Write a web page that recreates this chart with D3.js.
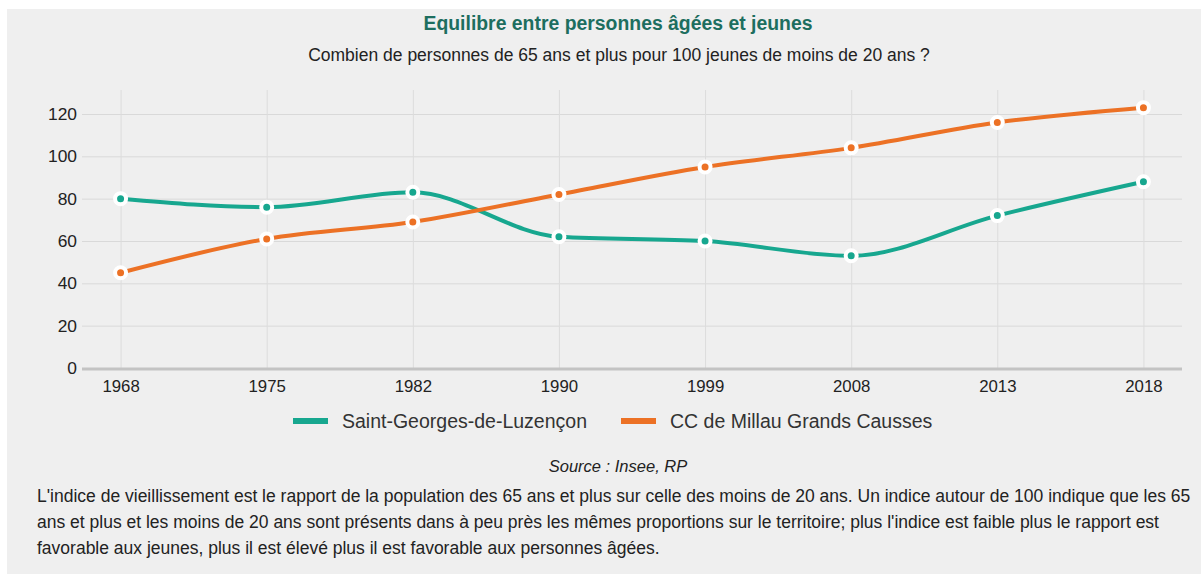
<!DOCTYPE html>
<html>
<head>
<meta charset="utf-8">
<script src="https://cdn.jsdelivr.net/npm/d3@7"></script>
<style>
  html, body { margin: 0; padding: 0; background: #ffffff; }
  svg { display: block; font-family: "Liberation Sans", Arial, sans-serif; }
</style>
</head>
<body>
<svg id="chart" width="1201" height="574"></svg>
<script>
const years = ["1968", "1975", "1982", "1990", "1999", "2008", "2013", "2018"];
const saintGeorges = [80, 76, 83, 62, 60, 53, 72, 88];
const millau = [45, 61, 69, 82, 95, 104, 116, 123];
const seriesNames = ["Saint-Georges-de-Luzençon", "CC de Millau Grands Causses"];
const seriesColors = ["#17a78f", "#ec7125"];
const yTicks = [0, 20, 40, 60, 80, 100, 120];
const titleText = "Equilibre entre personnes âgées et jeunes";
const subtitleText = "Combien de personnes de 65 ans et plus pour 100 jeunes de moins de 20 ans ?";
const sourceText = "Source : Insee, RP";
const noteLines = [
  "L'indice de vieillissement est le rapport de la population des 65 ans et plus sur celle des moins de 20 ans. Un indice autour de 100 indique que les 65",
  "ans et plus et les moins de 20 ans sont présents dans à peu près les mêmes proportions sur le territoire; plus l'indice est faible plus le rapport est",
  "favorable aux jeunes, plus il est élevé plus il est favorable aux personnes âgées."
];

const svg = d3.select("#chart");
svg.append("rect").attr("x", 7).attr("y", 9).attr("width", 1194).attr("height", 565).attr("fill", "#efefef");

const plot = { left: 82, right: 1182, top: 90, bottom: 368 };

const x = d3.scalePoint().domain(years).range([plot.left, plot.right]).padding(0.264);
const y = d3.scaleLinear().domain([0, 120]).range([plot.bottom, 114]);

// title
svg.append("text").attr("x", 618).attr("y", 30).attr("text-anchor", "middle")
  .attr("font-size", 19.4).attr("font-weight", "bold").attr("fill", "#1d6e5f").text(titleText);
svg.append("text").attr("x", 619).attr("y", 61).attr("text-anchor", "middle")
  .attr("font-size", 17.5).attr("fill", "#222").text(subtitleText);

// horizontal grid
const gy = svg.append("g").attr("transform", `translate(${plot.left},0)`)
  .call(d3.axisLeft(y).tickValues(yTicks).tickSize(-(plot.right - plot.left)).tickFormat(""));
gy.select(".domain").remove();
gy.selectAll("line").attr("stroke", "#d9d9d9").attr("stroke-width", 1);

// vertical grid
const gx = svg.append("g").attr("transform", `translate(0,${plot.top})`)
  .call(d3.axisBottom(x).tickSize(plot.bottom - plot.top).tickFormat(""));
gx.select(".domain").remove();
gx.selectAll("line").attr("stroke", "#dcdcdc").attr("stroke-width", 1);

// y labels
const yl = svg.append("g").attr("transform", `translate(${plot.left - 5},0)`)
  .call(d3.axisLeft(y).tickValues(yTicks).tickSize(0).tickPadding(0));
yl.select(".domain").remove();
yl.selectAll("text").attr("font-size", 17.4).attr("fill", "#222").attr("font-family", "Liberation Sans, Arial, sans-serif");

// x axis baseline + labels
svg.append("line").attr("x1", plot.left).attr("x2", plot.right).attr("y1", plot.bottom + 1).attr("y2", plot.bottom + 1)
  .attr("stroke", "#c3c3c3").attr("stroke-width", 3);
const xl = svg.append("g").attr("transform", `translate(0,${plot.bottom})`)
  .call(d3.axisBottom(x).tickSize(0).tickPadding(12));
xl.select(".domain").remove();
xl.selectAll("text").attr("font-size", 16.8).attr("fill", "#222").attr("font-family", "Liberation Sans, Arial, sans-serif");

// lines
const series = [saintGeorges, millau];
const line = d3.line().x((d, i) => x(years[i])).y(d => y(d)).curve(d3.curveMonotoneX);
series.forEach((vals, si) => {
  svg.append("path").datum(vals).attr("d", line).attr("fill", "none")
    .attr("stroke", seriesColors[si]).attr("stroke-width", 4).attr("stroke-linecap", "round");
});
series.forEach((vals, si) => {
  svg.append("g").selectAll("circle").data(vals).join("circle")
    .attr("cx", (d, i) => x(years[i])).attr("cy", d => y(d)).attr("r", 5.5)
    .attr("fill", seriesColors[si]).attr("stroke", "#ffffff").attr("stroke-width", 4);
});

// legend
const legendItems = [{ x: 293 }, { x: 621 }];
legendItems.forEach((it, i) => {
  svg.append("rect").attr("x", it.x).attr("y", 418).attr("width", 35).attr("height", 6)
    .attr("fill", seriesColors[i]);
  svg.append("text").attr("x", it.x + 49).attr("y", 428).attr("font-size", 19.5).attr("fill", "#333")
    .text(seriesNames[i]);
});

// source
svg.append("text").attr("x", 618).attr("y", 472).attr("text-anchor", "middle")
  .attr("font-size", 16.5).attr("font-style", "italic").attr("fill", "#222").text(sourceText);

// note
noteLines.forEach((t, i) => {
  svg.append("text").attr("x", 37).attr("y", 502 + i * 26).attr("font-size", 17.5).attr("fill", "#222").text(t);
});
</script>
</body>
</html>
